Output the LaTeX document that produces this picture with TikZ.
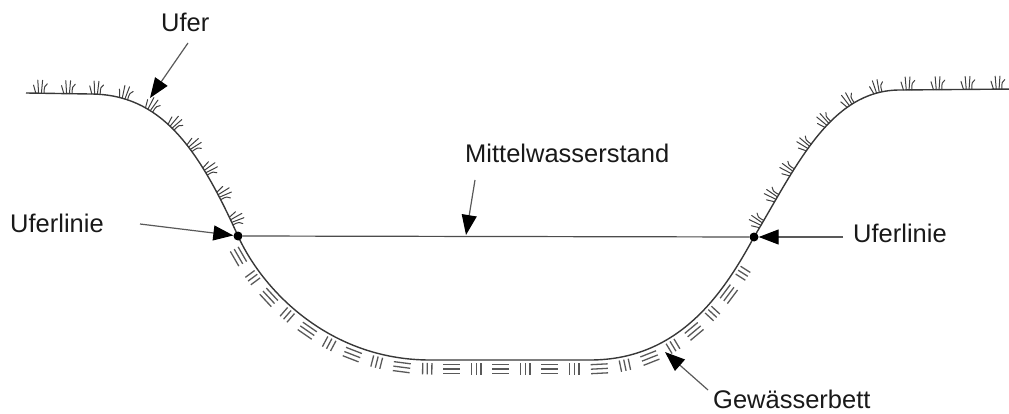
\documentclass[tikz,border=0pt]{standalone}
\usepackage{fontspec}
\setmainfont{Liberation Sans}
\usetikzlibrary{arrows.meta,decorations.markings}
\newcommand{\gTuft}{%
  \draw[grassline] (-4.2,0) .. controls (-4.6,3.5) .. (-6.6,8);
  \draw[grassline] (-1.4,0) .. controls (-1.5,7) .. (-2.4,13);
  \draw[grassline] (1.4,0) .. controls (1.5,7) .. (2.4,13);
  \draw[grassline] (4.2,0) .. controls (3.8,6) and (4.9,8.5) .. (7.2,9.5);}
\newcommand{\gPar}{%
  \draw[hatchline] (-8.5,-4.5) -- (8.5,-4.5) (-8.5,-9) -- (8.5,-9) (-8.5,-13.5) -- (8.5,-13.5);}
\newcommand{\gPerp}{%
  \draw[hatchline] (-4.6,-3) -- (-4.6,-14.5) (0,-3) -- (0,-14.5) (4.6,-3) -- (4.6,-14.5);}
\begin{document}
\begin{tikzpicture}[x=1pt,y=1pt,
  profile/.style={draw=black!78, line width=1.4pt},
  waterline/.style={draw=black!70, line width=1.2pt},
  grassline/.style={draw=black!75, line width=1pt, line cap=round},
  hatchline/.style={draw=black!65, line width=1.3pt},
  pointer/.style={draw=black!65, line width=1.2pt, -{Triangle[length=20pt,width=15pt,color=black]}},
  dot/.style={circle, fill=black, inner sep=0pt, minimum size=9pt},
  label/.style={anchor=base west, inner sep=0pt, text=black!90, font=\fontsize{25.5}{30}\selectfont},
  grassy/.style={postaction={decorate, decoration={markings,
    mark=between positions 14pt and 1 step 28pt with {\gTuft}}}},
  grassyR/.style={postaction={decorate, decoration={markings,
    mark=between positions 15pt and 1 step 30pt with {\gTuft}}}},
  beddedA/.style={postaction={decorate, decoration={markings,
    mark=between positions 18pt and 0.98 step 49pt with {\gPar}}}},
  beddedB/.style={postaction={decorate, decoration={markings,
    mark=between positions 42.5pt and 0.98 step 49pt with {\gPerp}}}}
]
\useasboundingbox (0,0) rectangle (1009,-414);

% ground profile
\path[grassy] (26,-93) -- (90,-94) .. controls (160,-94) and (197.5,-146) .. (238,-236);
\path[beddedA] (238,-236) .. controls (263,-291) and (330,-360) .. (430,-360)
   -- (590,-360) .. controls (680,-360) and (724,-292) .. (754,-237);
\path[beddedB] (238,-236) .. controls (263,-291) and (330,-360) .. (430,-360)
   -- (590,-360) .. controls (680,-360) and (724,-292) .. (754,-237);
\path[grassyR] (754,-237) .. controls (796,-167) and (830,-90) .. (900,-90) -- (1015,-89);
\draw[profile] (26,-93) -- (90,-94) .. controls (160,-94) and (197.5,-146) .. (238,-236)
   .. controls (263,-291) and (330,-360) .. (430,-360)
   -- (590,-360) .. controls (680,-360) and (724,-292) .. (754,-237)
   .. controls (796,-167) and (830,-90) .. (900,-90) -- (1015,-89);

% shore points and mean water level
\node[dot] (dotL) at (238,-236) {};
\node[dot] (dotR) at (754,-237) {};
\draw[waterline] (dotL) -- (dotR);

% labels
\node[label] (ufer) at (161,-32) {Ufer};
\node[label] (mws) at (465,-163) {Mittelwasserstand};
\node[label] (ulL) at (10,-233) {Uferlinie};
\node[label] (ulR) at (853,-242) {Uferlinie};
\node[label] (gwb) at (713,-408) {Gewässerbett};

% arrow ends
\coordinate (uferS) at (188,-43);
\coordinate (uferT) at (150,-98);
\coordinate (mwsS) at (475,-180);
\coordinate (mwsT) at (466,-235);
\coordinate (ulLS) at (140,-224);
\coordinate (ulRS) at (843,-237);
\coordinate (gwbS) at (708,-390);
\coordinate (gwbT) at (665,-352);

\draw[pointer] (uferS) -- (uferT);
\draw[pointer] (mwsS) -- (mwsT);
\draw[pointer] (ulLS) -- (dotL);
\draw[pointer] (ulRS) -- (dotR);
\draw[pointer] (gwbS) -- (gwbT);
\end{tikzpicture}
\end{document}
